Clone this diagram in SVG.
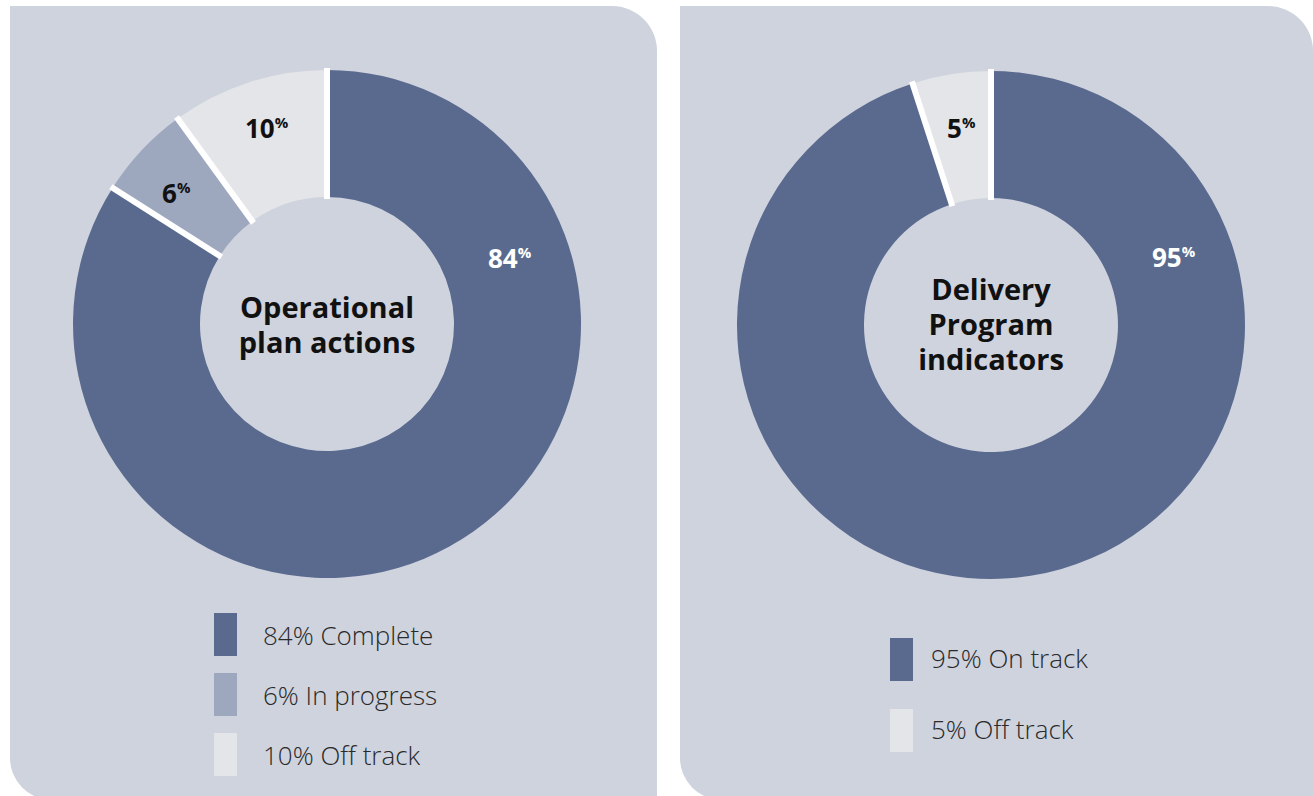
<svg xmlns="http://www.w3.org/2000/svg" width="1313" height="796" viewBox="0 0 1313 796">
<style>
.bg{fill:#cfd3de}
.dark{fill:#5a6a8e}
.mid{fill:#9da8bf}
.light{fill:#e4e5e8}
.sep{stroke:#ffffff;stroke-width:6;fill:none}
.ctr{font-family:"Open Sans","Liberation Sans",sans-serif;font-weight:700;font-size:29px;fill:#111111;text-anchor:middle}
.pct{font-family:"Open Sans","Liberation Sans",sans-serif;font-weight:700;font-size:26px}
.sup{font-size:15px}
.leg{font-family:"Open Sans","Liberation Sans",sans-serif;font-weight:300;font-size:26px;fill:#2a2a2a}
</style>
<rect width="1313" height="796" fill="#ffffff"/>
<g id="panel-left">
<path class="bg" d="M10 6 H612 A45 45 0 0 1 657 51 V800 H52 A42 42 0 0 1 10 758 Z"/>
</g>
<g id="panel-right">
<path class="bg" d="M680 6 H1268 A45 45 0 0 1 1313 51 V800 H722 A42 42 0 0 1 680 758 Z"/>
</g>
<g id="chart-left">
<path class="dark" d="M327 70 A254 254 0 1 1 112.55 187.91 L219.77 255.95 A127 127 0 1 0 327 197 Z"/>
<path class="mid" d="M112.55 187.91 A254 254 0 0 1 177.70 118.51 L252.35 221.26 A127 127 0 0 0 219.77 255.95 Z"/>
<path class="light" d="M177.70 118.51 A254 254 0 0 1 327 70 L327 197 A127 127 0 0 0 252.35 221.26 Z"/>
</g>
<g id="chart-right">
<path class="dark" d="M991 71 A254 254 0 1 1 912.51 83.43 L951.75 204.21 A127 127 0 1 0 991 198 Z"/>
<path class="light" d="M912.51 83.43 A254 254 0 0 1 991 71 L991 198 A127 127 0 0 0 951.75 204.21 Z"/>
</g>
<g id="connectors">
<path class="sep" d="M327 68 V199"/>
<path class="sep" d="M110.86 186.84 L221.46 257.02"/>
<path class="sep" d="M176.52 116.89 L253.53 222.88"/>
<path class="sep" d="M991 69 V200"/>
<path class="sep" d="M911.89 81.53 L952.37 206.11"/>
</g>
<g id="label-84"><text class="pct" x="488" y="268" fill="#ffffff">84<tspan class="sup" dy="-10">%</tspan></text></g>
<g id="label-6"><text class="pct" x="162" y="203" fill="#111111">6<tspan class="sup" dy="-10">%</tspan></text></g>
<g id="label-10"><text class="pct" x="245" y="138" fill="#111111">10<tspan class="sup" dy="-10">%</tspan></text></g>
<g id="label-95"><text class="pct" x="1152" y="267" fill="#ffffff">95<tspan class="sup" dy="-10">%</tspan></text></g>
<g id="label-5"><text class="pct" x="947" y="138" fill="#111111">5<tspan class="sup" dy="-10">%</tspan></text></g>
<g id="center-left"><text class="ctr"><tspan x="327" y="318">Operational</tspan><tspan x="327" y="353">plan actions</tspan></text></g>
<g id="center-right"><text class="ctr"><tspan x="991" y="300">Delivery</tspan><tspan x="991" y="335">Program</tspan><tspan x="991" y="370">indicators</tspan></text></g>
<g id="legend-left">
<rect class="dark" x="214" y="613" width="23" height="43"/>
<text class="leg" x="263" y="645">84% Complete</text>
<rect class="mid" x="214" y="673" width="23" height="43"/>
<text class="leg" x="263" y="705">6% In progress</text>
<rect class="light" x="214" y="733" width="23" height="43"/>
<text class="leg" x="263" y="765">10% Off track</text>
</g>
<g id="legend-right">
<rect class="dark" x="890" y="638" width="23" height="43"/>
<text class="leg" x="931" y="668">95% On track</text>
<rect class="light" x="890" y="709" width="23" height="43"/>
<text class="leg" x="931" y="739">5% Off track</text>
</g>
</svg>
